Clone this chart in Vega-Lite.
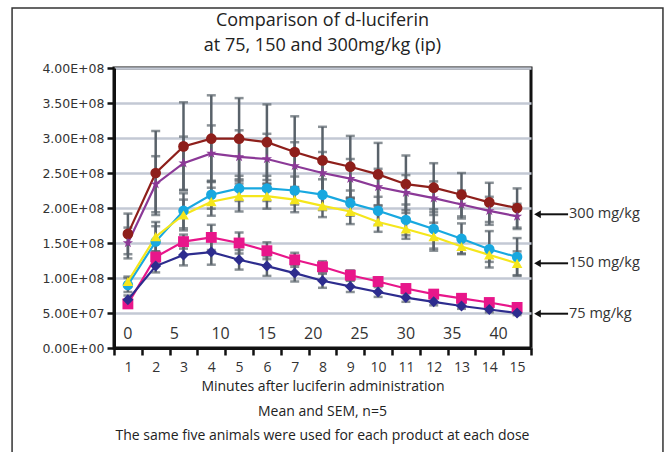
{
  "$schema": "https://vega.github.io/schema/vega-lite/v6.json",
  "autosize": {"type": "none"},
  "width": 417,
  "height": 280,
  "padding": {"left": 114, "top": 68, "right": 134, "bottom": 104},
  "background": "white",
  "title": {
    "text": ["Comparison of d-luciferin", "at 75, 150 and 300mg/kg (ip)"],
    "font": "Open Sans",
    "fontSize": 18,
    "fontWeight": "normal",
    "color": "#222222",
    "lineHeight": 25,
    "offset": 6,
    "dy": 54,
    "anchor": "middle"
  },
  "config": {
    "view": {"stroke": "#111111", "strokeWidth": 3},
    "axis": {"labelColor": "#333333", "titleColor": "#222222"},
    "axisY": {
      "labelFont": "DejaVu Sans",
      "labelFontSize": 12.5,
      "labelPadding": 3,
      "labelOverlap": false,
      "tickColor": "#111111",
      "tickWidth": 2.5,
      "tickSize": 7,
      "domainColor": "#111111",
      "domainWidth": 3,
      "gridColor": "#c3c9d4",
      "gridWidth": 2.5
    }
  },
  "datasets": {
    "series": [
      {"t": 1, "s": "300-A", "v": 163000000, "e": 29000000},
      {"t": 2, "s": "300-A", "v": 250000000, "e": 60000000},
      {"t": 3, "s": "300-A", "v": 288000000, "e": 63000000},
      {"t": 4, "s": "300-A", "v": 299000000, "e": 62000000},
      {"t": 5, "s": "300-A", "v": 299000000, "e": 58000000},
      {"t": 6, "s": "300-A", "v": 294000000, "e": 54000000},
      {"t": 7, "s": "300-A", "v": 280000000, "e": 51000000},
      {"t": 8, "s": "300-A", "v": 268000000, "e": 48000000},
      {"t": 9, "s": "300-A", "v": 259000000, "e": 44000000},
      {"t": 10, "s": "300-A", "v": 248000000, "e": 45000000},
      {"t": 11, "s": "300-A", "v": 234000000, "e": 41000000},
      {"t": 12, "s": "300-A", "v": 229000000, "e": 35000000},
      {"t": 13, "s": "300-A", "v": 219000000, "e": 31000000},
      {"t": 14, "s": "300-A", "v": 208000000, "e": 28000000},
      {"t": 15, "s": "300-A", "v": 200000000, "e": 28000000},
      {"t": 1, "s": "300-B", "v": 150000000, "e": 22000000},
      {"t": 2, "s": "300-B", "v": 234000000, "e": 40000000},
      {"t": 3, "s": "300-B", "v": 264000000, "e": 38000000},
      {"t": 4, "s": "300-B", "v": 278000000, "e": 40000000},
      {"t": 5, "s": "300-B", "v": 273000000, "e": 38000000},
      {"t": 6, "s": "300-B", "v": 270000000, "e": 36000000},
      {"t": 7, "s": "300-B", "v": 260000000, "e": 34000000},
      {"t": 8, "s": "300-B", "v": 250000000, "e": 30000000},
      {"t": 9, "s": "300-B", "v": 242000000, "e": 28000000},
      {"t": 10, "s": "300-B", "v": 230000000, "e": 26000000},
      {"t": 11, "s": "300-B", "v": 222000000, "e": 25000000},
      {"t": 12, "s": "300-B", "v": 214000000, "e": 24000000},
      {"t": 13, "s": "300-B", "v": 205000000, "e": 20000000},
      {"t": 14, "s": "300-B", "v": 196000000, "e": 20000000},
      {"t": 15, "s": "300-B", "v": 188000000, "e": 18000000},
      {"t": 1, "s": "150-A", "v": 90000000, "e": 10000000},
      {"t": 2, "s": "150-A", "v": 152000000, "e": 22000000},
      {"t": 3, "s": "150-A", "v": 196000000, "e": 25000000},
      {"t": 4, "s": "150-A", "v": 219000000, "e": 20000000},
      {"t": 5, "s": "150-A", "v": 228000000, "e": 18000000},
      {"t": 6, "s": "150-A", "v": 228000000, "e": 18000000},
      {"t": 7, "s": "150-A", "v": 225000000, "e": 20000000},
      {"t": 8, "s": "150-A", "v": 219000000, "e": 22000000},
      {"t": 9, "s": "150-A", "v": 207000000, "e": 18000000},
      {"t": 10, "s": "150-A", "v": 196000000, "e": 20000000},
      {"t": 11, "s": "150-A", "v": 183000000, "e": 22000000},
      {"t": 12, "s": "150-A", "v": 170000000, "e": 28000000},
      {"t": 13, "s": "150-A", "v": 156000000, "e": 22000000},
      {"t": 14, "s": "150-A", "v": 141000000, "e": 26000000},
      {"t": 15, "s": "150-A", "v": 130000000, "e": 27000000},
      {"t": 1, "s": "150-B", "v": 95000000, "e": 7000000},
      {"t": 2, "s": "150-B", "v": 159000000, "e": 21000000},
      {"t": 3, "s": "150-B", "v": 190000000, "e": 22000000},
      {"t": 4, "s": "150-B", "v": 209000000, "e": 20000000},
      {"t": 5, "s": "150-B", "v": 217000000, "e": 22000000},
      {"t": 6, "s": "150-B", "v": 217000000, "e": 18000000},
      {"t": 7, "s": "150-B", "v": 212000000, "e": 18000000},
      {"t": 8, "s": "150-B", "v": 203000000, "e": 16000000},
      {"t": 9, "s": "150-B", "v": 195000000, "e": 18000000},
      {"t": 10, "s": "150-B", "v": 180000000, "e": 14000000},
      {"t": 11, "s": "150-B", "v": 170000000, "e": 14000000},
      {"t": 12, "s": "150-B", "v": 159000000, "e": 20000000},
      {"t": 13, "s": "150-B", "v": 145000000, "e": 10000000},
      {"t": 14, "s": "150-B", "v": 133000000, "e": 10000000},
      {"t": 15, "s": "150-B", "v": 121000000, "e": 17000000},
      {"t": 1, "s": "75-A", "v": 63000000, "e": 5000000},
      {"t": 2, "s": "75-A", "v": 130000000, "e": 8000000},
      {"t": 3, "s": "75-A", "v": 152000000, "e": 10000000},
      {"t": 4, "s": "75-A", "v": 158000000, "e": 18000000},
      {"t": 5, "s": "75-A", "v": 150000000, "e": 15000000},
      {"t": 6, "s": "75-A", "v": 139000000, "e": 12000000},
      {"t": 7, "s": "75-A", "v": 126000000, "e": 10000000},
      {"t": 8, "s": "75-A", "v": 116000000, "e": 8000000},
      {"t": 9, "s": "75-A", "v": 104000000, "e": 7000000},
      {"t": 10, "s": "75-A", "v": 95000000, "e": 6000000},
      {"t": 11, "s": "75-A", "v": 85000000, "e": 6000000},
      {"t": 12, "s": "75-A", "v": 77000000, "e": 5000000},
      {"t": 13, "s": "75-A", "v": 71000000, "e": 4000000},
      {"t": 14, "s": "75-A", "v": 65000000, "e": 4000000},
      {"t": 15, "s": "75-A", "v": 58000000, "e": 3000000},
      {"t": 1, "s": "75-B", "v": 69000000, "e": 6000000},
      {"t": 2, "s": "75-B", "v": 117000000, "e": 9000000},
      {"t": 3, "s": "75-B", "v": 133000000, "e": 15000000},
      {"t": 4, "s": "75-B", "v": 137000000, "e": 18000000},
      {"t": 5, "s": "75-B", "v": 126000000, "e": 14000000},
      {"t": 6, "s": "75-B", "v": 117000000, "e": 14000000},
      {"t": 7, "s": "75-B", "v": 107000000, "e": 12000000},
      {"t": 8, "s": "75-B", "v": 96000000, "e": 10000000},
      {"t": 9, "s": "75-B", "v": 88000000, "e": 8000000},
      {"t": 10, "s": "75-B", "v": 80000000, "e": 7000000},
      {"t": 11, "s": "75-B", "v": 72000000, "e": 6000000},
      {"t": 12, "s": "75-B", "v": 66000000, "e": 5000000},
      {"t": 13, "s": "75-B", "v": 60000000, "e": 4000000},
      {"t": 14, "s": "75-B", "v": 55000000, "e": 4000000},
      {"t": 15, "s": "75-B", "v": 50000000, "e": 3000000}
    ],
    "minutes": [
      {"m": 0}, {"m": 5}, {"m": 10}, {"m": 15}, {"m": 20},
      {"m": 25}, {"m": 30}, {"m": 35}, {"m": 40}
    ],
    "doses": [
      {"dose": "300 mg/kg", "level": 191000000},
      {"dose": "150 mg/kg", "level": 121000000},
      {"dose": "75 mg/kg", "level": 49000000}
    ],
    "one": [{}]
  },
  "resolve": {"scale": {"x": "independent"}},
  "layer": [
    {
      "data": {"name": "series"},
      "encoding": {
        "x": {
          "field": "t",
          "type": "ordinal",
          "sort": [1,2,3,4,5,6,7,8,9,10,11,12,13,14,15],
          "scale": {"paddingInner": 0, "paddingOuter": 0},
          "axis": {
            "title": "Minutes after luciferin administration",
            "titleFont": "Open Sans",
            "titleFontSize": 14,
            "titleFontWeight": "normal",
            "titlePadding": 5,
            "labelAngle": 0,
            "labelFont": "Open Sans",
            "labelFontSize": 14,
            "labelPadding": 5,
            "labelOverlap": false,
            "tickBand": "extent",
            "tickColor": "#111111",
            "tickWidth": 2.5,
            "tickSize": 7,
            "domainColor": "#111111",
            "domainWidth": 3,
            "grid": false
          }
        },
        "y": {
          "field": "v",
          "type": "quantitative",
          "scale": {"domain": [0, 400000000], "nice": false},
          "axis": {"title": null, "grid": true, "tickCount": 12, "values": [0, 50000000, 100000000, 150000000, 200000000, 250000000, 300000000, 350000000, 400000000], "labelExpr": "replace(format(datum.value, '.2e'), 'e+', 'E+0')"}
        }
      },
      "layer": [
        {
          "mark": {"type": "errorbar", "ticks": {"size": 9}, "color": "#59626a", "thickness": 2.5},
          "encoding": {
            "y": {"field": "v", "type": "quantitative", "axis": {"title": null, "grid": true, "tickCount": 12, "values": [0, 50000000, 100000000, 150000000, 200000000, 250000000, 300000000, 350000000, 400000000], "labelExpr": "replace(format(datum.value, '.2e'), 'e+', 'E+0')"}},
            "yError": {"field": "e"},
            "detail": {"field": "s"}
          }
        },
        {
          "mark": {"type": "line", "strokeWidth": 2.2},
          "encoding": {
            "color": {
              "field": "s",
              "type": "nominal",
              "scale": {
                "domain": ["150-A", "150-B", "300-A", "300-B", "75-A", "75-B"],
                "range": ["#18a8e0", "#f5e61c", "#8e1f1b", "#8b3997", "#e8168a", "#2d2c8e"]
              },
              "legend": null
            }
          }
        },
        {
          "mark": {"type": "point", "filled": true, "opacity": 1},
          "encoding": {
            "color": {"field": "s", "type": "nominal", "legend": null},
            "shape": {
              "field": "s",
              "type": "nominal",
              "scale": {
                "domain": ["150-A", "150-B", "300-A", "300-B", "75-A", "75-B"],
                "range": ["circle", "triangle-up", "circle", "M0,-1L0.2245,-0.309L0.951,-0.309L0.363,0.118L0.588,0.809L0,0.382L-0.588,0.809L-0.363,0.118L-0.951,-0.309L-0.2245,-0.309Z", "square", "diamond"]
              },
              "legend": null
            },
            "size": {
              "field": "s",
              "type": "nominal",
              "scale": {
                "domain": ["150-A", "150-B", "300-A", "300-B", "75-A", "75-B"],
                "range": [110, 120, 110, 170, 110, 140]
              },
              "legend": null
            }
          }
        }
      ]
    },
    {
      "encoding": {
        "x": {
          "type": "quantitative",
          "scale": {"domain": [-1.5, 43.5], "nice": false, "zero": false},
          "axis": null
        }
      },
      "layer": [
        {
          "data": {"name": "one"},
          "mark": {"type": "rect", "fill": null, "fillOpacity": 0, "stroke": "#333333", "strokeWidth": 1.5, "clip": false},
          "encoding": {
            "x": {"datum": -12.5, "type": "quantitative"},
            "x2": {"datum": 57.74},
            "y": {"datum": 485700000, "type": "quantitative", "axis": {"title": null, "grid": true, "tickCount": 12, "values": [0, 50000000, 100000000, 150000000, 200000000, 250000000, 300000000, 350000000, 400000000], "labelExpr": "replace(format(datum.value, '.2e'), 'e+', 'E+0')"}},
            "y2": {"datum": -170000000}
          }
        },
        {
          "data": {"name": "minutes"},
          "mark": {"type": "text", "font": "Open Sans", "fontSize": 16, "color": "#333333", "baseline": "middle"},
          "encoding": {
            "x": {"field": "m", "type": "quantitative"},
            "y": {"datum": 20000000, "type": "quantitative", "axis": {"title": null, "grid": true, "tickCount": 12, "values": [0, 50000000, 100000000, 150000000, 200000000, 250000000, 300000000, 350000000, 400000000], "labelExpr": "replace(format(datum.value, '.2e'), 'e+', 'E+0')"}},
            "text": {"field": "m", "type": "quantitative"}
          }
        },
        {
          "data": {"name": "doses"},
          "mark": {"type": "rule", "color": "#111111", "strokeWidth": 2, "clip": false},
          "encoding": {
            "x": {"datum": 44.3, "type": "quantitative"},
            "x2": {"datum": 47.5},
            "y": {"field": "level", "type": "quantitative", "axis": {"title": null, "grid": true, "tickCount": 12, "values": [0, 50000000, 100000000, 150000000, 200000000, 250000000, 300000000, 350000000, 400000000], "labelExpr": "replace(format(datum.value, '.2e'), 'e+', 'E+0')"}}
          }
        },
        {
          "data": {"name": "doses"},
          "mark": {"type": "point", "shape": "triangle-left", "filled": true, "color": "#111111", "size": 60, "opacity": 1, "clip": false},
          "encoding": {
            "x": {"datum": 44.2, "type": "quantitative"},
            "y": {"field": "level", "type": "quantitative", "axis": {"title": null, "grid": true, "tickCount": 12, "values": [0, 50000000, 100000000, 150000000, 200000000, 250000000, 300000000, 350000000, 400000000], "labelExpr": "replace(format(datum.value, '.2e'), 'e+', 'E+0')"}}
          }
        },
        {
          "data": {"name": "doses"},
          "mark": {"type": "text", "font": "Open Sans", "fontSize": 14.5, "color": "#333333", "align": "left", "baseline": "middle", "dx": 1, "clip": false},
          "encoding": {
            "x": {"datum": 47.5, "type": "quantitative"},
            "y": {"field": "level", "type": "quantitative", "axis": {"title": null, "grid": true, "tickCount": 12, "values": [0, 50000000, 100000000, 150000000, 200000000, 250000000, 300000000, 350000000, 400000000], "labelExpr": "replace(format(datum.value, '.2e'), 'e+', 'E+0')"}},
            "text": {"field": "dose"}
          }
        },
        {
          "data": {"name": "one"},
          "mark": {"type": "text", "text": "Mean and SEM, n=5", "font": "Open Sans", "fontSize": 14, "color": "#222222", "baseline": "middle", "align": "center", "clip": false},
          "encoding": {
            "x": {"datum": 21, "type": "quantitative"},
            "y": {"datum": -91000000, "type": "quantitative", "axis": {"title": null, "grid": true, "tickCount": 12, "values": [0, 50000000, 100000000, 150000000, 200000000, 250000000, 300000000, 350000000, 400000000], "labelExpr": "replace(format(datum.value, '.2e'), 'e+', 'E+0')"}}
          }
        },
        {
          "data": {"name": "one"},
          "mark": {"type": "text", "text": "The same five animals were used for each product at each dose", "font": "Open Sans", "fontSize": 14, "color": "#222222", "baseline": "middle", "align": "center", "clip": false},
          "encoding": {
            "x": {"datum": 21, "type": "quantitative"},
            "y": {"datum": -126000000, "type": "quantitative", "axis": {"title": null, "grid": true, "tickCount": 12, "values": [0, 50000000, 100000000, 150000000, 200000000, 250000000, 300000000, 350000000, 400000000], "labelExpr": "replace(format(datum.value, '.2e'), 'e+', 'E+0')"}}
          }
        }
      ]
    }
  ]
}
